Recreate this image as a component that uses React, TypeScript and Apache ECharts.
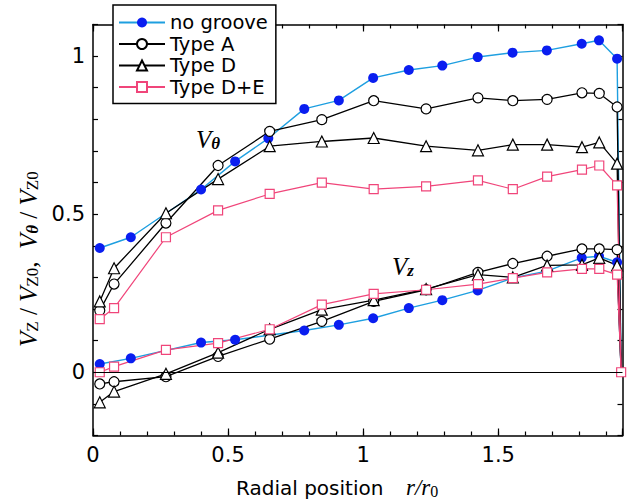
import React, { useEffect, useRef } from "react";
import * as echarts from "echarts";

// Radial stations (r / r0)
const radiusNoGroove = [0.025, 0.14, 0.4, 0.526, 0.649, 0.782, 0.91, 1.037, 1.169, 1.293, 1.424, 1.553, 1.68, 1.809, 1.873, 1.94];
const radiusTyped = [0.025, 0.078, 0.27, 0.463, 0.654, 0.847, 1.039, 1.233, 1.425, 1.554, 1.681, 1.81, 1.874, 1.94];
const wallRadius = 1.955;
const wallVelocity = 0;

// Tangential velocity V_theta / V_Z0
const vThetaNoGroove = [0.393, 0.427, 0.578, 0.667, 0.74, 0.833, 0.86, 0.931, 0.956, 0.97, 0.997, 1.011, 1.018, 1.039, 1.05, 0.992];
const vThetaTypeA = [0.195, 0.279, 0.472, 0.654, 0.762, 0.799, 0.859, 0.833, 0.868, 0.859, 0.863, 0.884, 0.882, 0.839];
const vThetaTypeD = [0.224, 0.329, 0.503, 0.611, 0.715, 0.73, 0.741, 0.715, 0.702, 0.72, 0.72, 0.712, 0.727, 0.66];
const vThetaTypeDE = [0.168, 0.203, 0.427, 0.512, 0.564, 0.6, 0.579, 0.588, 0.607, 0.579, 0.619, 0.641, 0.654, 0.591];

// Axial velocity V_Z / V_Z0 (null = no measurement at that station)
const vZNoGroove = [0.026, 0.044, 0.094, 0.103, null, 0.132, 0.15, 0.171, 0.203, 0.228, 0.259, 0.298, 0.32, 0.362, 0.367, 0.348];
const vZTypeA = [-0.037, -0.03, -0.014, 0.05, 0.105, 0.161, 0.224, 0.261, 0.316, 0.344, 0.367, 0.39, 0.39, 0.388];
const vZTypeD = [-0.095, -0.061, -0.005, 0.062, 0.136, 0.198, 0.228, 0.263, 0.309, 0.3, 0.338, 0.34, 0.362, 0.338];
const vZTypeDE = [0.0, 0.018, 0.071, 0.092, 0.136, 0.214, 0.248, 0.261, 0.279, 0.298, 0.316, 0.327, 0.327, 0.309];

const seriesNames = ["no groove", "Type A", "Type D", "Type D+E"];

const SANS = "DejaVu Sans, Arial, sans-serif";
const SERIF = "Liberation Serif, Times New Roman, serif";

const X_MAX = 1.96;
const Y_MIN = -0.2;
const Y_MAX = 1.1;

type Look = {
  line: string;
  symbol: string;
  size: number;
  fill: string;
  border: string;
  borderWidth: number;
  lineWidth: number;
};

const looks: Record<string, Look> = {
  "no groove": { line: "#1e9fe0", symbol: "circle", size: 10, fill: "#0a1ef0", border: "#0a1ef0", borderWidth: 0, lineWidth: 1.4 },
  "Type A": { line: "#000000", symbol: "circle", size: 10, fill: "#ffffff", border: "#000000", borderWidth: 1.2, lineWidth: 1.3 },
  "Type D": { line: "#000000", symbol: "triangle", size: 11, fill: "#ffffff", border: "#000000", borderWidth: 1.2, lineWidth: 1.3 },
  "Type D+E": { line: "#f0457a", symbol: "rect", size: 9, fill: "#ffffff", border: "#f0457a", borderWidth: 1.2, lineWidth: 1.2 },
};

function profile(xs: number[], ys: (number | null)[], wallMarker: boolean) {
  const out: any[] = [];
  xs.forEach((x, i) => {
    const y = ys[i];
    if (y !== null && y !== undefined) out.push([x, y]);
  });
  out.push(wallMarker ? [wallRadius, wallVelocity] : { value: [wallRadius, wallVelocity], symbol: "none" });
  return out;
}

function lineSeries(name: string, data: any[], extra: any = {}) {
  const lk = looks[name];
  return {
    type: "line",
    name,
    data,
    symbol: lk.symbol,
    symbolSize: lk.size,
    showAllSymbol: true,
    lineStyle: { color: lk.line, width: lk.lineWidth },
    itemStyle: { color: lk.fill, borderColor: lk.border, borderWidth: lk.borderWidth },
    emphasis: { disabled: true },
    ...extra,
  };
}

const halfStep = (v: number) => Math.abs(v * 2 - Math.round(v * 2)) < 1e-6;

function xAxisDef(position: "top" | "bottom", interval: number, tickLen: number, labels: boolean, line: boolean) {
  return {
    type: "value",
    position,
    min: 0,
    max: X_MAX,
    interval,
    axisLine: { show: line, onZero: false, lineStyle: { color: "#000", width: 1.5 } },
    axisTick: { show: true, inside: true, length: tickLen, lineStyle: { color: "#000", width: 1.2 } },
    axisLabel: {
      show: labels,
      margin: 9,
      color: "#000",
      fontFamily: SANS,
      fontSize: 21,
      formatter: (v: number) => (halfStep(v) && v < 1.9 ? String(Math.round(v * 2) / 2) : ""),
    },
    splitLine: { show: false },
  };
}

function yAxisDef(position: "left" | "right", labels: boolean) {
  return {
    type: "value",
    position,
    min: Y_MIN,
    max: Y_MAX,
    interval: 0.1,
    axisLine: { show: true, onZero: false, lineStyle: { color: "#000", width: 1.5 } },
    axisTick: { show: true, inside: true, length: 5, lineStyle: { color: "#000", width: 1.2 } },
    axisLabel: {
      show: labels,
      margin: 8,
      color: "#000",
      fontFamily: SANS,
      fontSize: 21,
      formatter: (v: number) => (halfStep(v) && v > -1e-6 ? String(Math.abs(Math.round(v * 2) / 2)) : ""),
    },
    splitLine: { show: false },
  };
}

const sub = (fontSize: number, extra: any = {}) => ({
  fontFamily: SERIF,
  fontSize,
  lineHeight: 10,
  verticalAlign: "bottom",
  fill: "#000",
  ...extra,
});

export default function App() {
  const ref = useRef<HTMLDivElement>(null);

  useEffect(() => {
    if (!ref.current) return;
    const chart = echarts.init(ref.current, undefined, { renderer: "svg" });

    const series: any[] = [
      lineSeries("no groove", profile(radiusNoGroove, vThetaNoGroove, false), {
        markLine: {
          silent: true,
          symbol: ["none", "none"],
          label: { show: false },
          lineStyle: { color: "#000", type: "solid", width: 1 },
          data: [{ yAxis: 0 }],
        },
      }),
      lineSeries("no groove", profile(radiusNoGroove, vZNoGroove, false)),
      lineSeries("Type A", profile(radiusTyped, vThetaTypeA, false)),
      lineSeries("Type A", profile(radiusTyped, vZTypeA, false)),
      lineSeries("Type D", profile(radiusTyped, vThetaTypeD, false)),
      lineSeries("Type D", profile(radiusTyped, vZTypeD, false)),
      lineSeries("Type D+E", profile(radiusTyped, vThetaTypeDE, false)),
      lineSeries("Type D+E", profile(radiusTyped, vZTypeDE, true)),
    ];

    const vRich = { fontFamily: SERIF, fontStyle: "italic", fontSize: 25, lineHeight: 26, fill: "#000" };

    chart.setOption({
      animation: false,
      backgroundColor: "#ffffff",
      grid: { left: 93, right: 4.5, top: 24.5, bottom: 65.5, containLabel: false },
      xAxis: [
        xAxisDef("bottom", 0.5, 7, true, true),
        xAxisDef("bottom", 0.1, 4, false, false),
        xAxisDef("top", 0.5, 7, false, true),
        xAxisDef("top", 0.1, 4, false, false),
      ],
      yAxis: [yAxisDef("left", true), yAxisDef("right", false)],
      legend: {
        orient: "vertical",
        left: 113,
        top: 5,
        itemWidth: 46,
        itemHeight: 12.5,
        itemGap: 0.5,
        padding: [7, 8, 6, 5],
        backgroundColor: "#ffffff",
        borderColor: "#000",
        borderWidth: 1.5,
        selectedMode: false,
        textStyle: { fontFamily: SANS, fontSize: 19.5, color: "#000", lineHeight: 21 },
        data: seriesNames,
      },
      series,
      graphic: [
        {
          type: "text",
          x: 196,
          y: 139,
          z: 10,
          style: {
            text: "{v|V}{t|θ}",
            verticalAlign: "middle",
            align: "left",
            rich: { v: vRich, t: sub(17, { fontStyle: "italic", fontWeight: "bold" }) },
          },
        },
        {
          type: "text",
          x: 392,
          y: 266,
          z: 10,
          style: {
            text: "{v|V}{t|z}",
            verticalAlign: "middle",
            align: "left",
            rich: { v: vRich, t: sub(17, { fontStyle: "italic", fontWeight: "bold" }) },
          },
        },
        {
          type: "text",
          x: 28,
          y: 347,
          rotation: Math.PI / 2,
          z: 10,
          style: {
            text: "{v|V}{s|Z}{n| / }{v|V}{s|Z0}{n|,  }{v|V}{t|θ}{n| / }{v|V}{s|Z0}",
            verticalAlign: "middle",
            align: "left",
            rich: {
              v: vRich,
              n: { fontFamily: SERIF, fontSize: 25, lineHeight: 26, fill: "#000" },
              s: sub(17),
              t: sub(17, { fontStyle: "italic", fontWeight: "bold" }),
            },
          },
        },
        {
          type: "text",
          x: 236,
          y: 488,
          z: 10,
          style: {
            text: "Radial position",
            fontFamily: SANS,
            fontSize: 20,
            fill: "#000",
            verticalAlign: "middle",
            align: "left",
          },
        },
        {
          type: "text",
          x: 406,
          y: 487,
          z: 10,
          style: {
            text: "{r|r/r}{s|0}",
            verticalAlign: "middle",
            align: "left",
            rich: {
              r: { fontFamily: SERIF, fontStyle: "italic", fontSize: 23, lineHeight: 24, fill: "#000" },
              s: sub(16),
            },
          },
        },
      ],
    });

    return () => chart.dispose();
  }, []);

  return (
    <div
      ref={ref}
      style={{ position: "fixed", left: 0, top: 0, width: 627, height: 501, background: "#fff" }}
    />
  );
}
